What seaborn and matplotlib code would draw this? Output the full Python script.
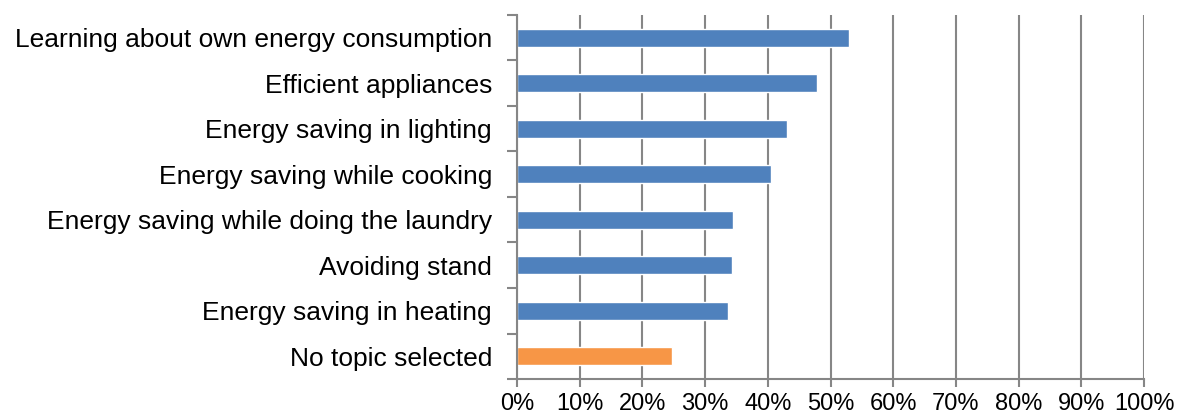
import matplotlib
matplotlib.use("Agg")
import matplotlib.pyplot as plt
import seaborn as sns
import pandas as pd
import numpy as np
from matplotlib.ticker import FixedLocator, PercentFormatter

topics = [
    "Learning about own energy consumption",
    "Efficient appliances",
    "Energy saving in lighting",
    "Energy saving while cooking",
    "Energy saving while doing the laundry",
    "Avoiding stand",
    "Energy saving in heating",
    "No topic selected",
]
share = [53.0, 47.9, 43.1, 40.5, 34.5, 34.3, 33.7, 24.7]
group = ["topic"] * 7 + ["none"]
x_ticks = list(range(0, 101, 10))

df = pd.DataFrame({"topic": topics, "share": share, "group": group})

sns.set_style("white")
plt.rcParams["font.family"] = ["Liberation Sans", "DejaVu Sans"]

fig = plt.figure(figsize=(11.84, 4.19), dpi=100)
ax = fig.add_axes([517 / 1184, 1 - 379 / 419, 627 / 1184, 364 / 419])

sns.barplot(
    data=df, x="share", y="topic", hue="group", orient="h",
    palette={"topic": "#4F81BD", "none": "#F79646"},
    width=0.4, dodge=False, legend=False, ax=ax, saturation=1,
)

grid_col = "#868686"
ax.set_xlim(0, 100)
ax.set_ylim(len(topics) - 0.5, -0.5)
ax.xaxis.set_major_locator(FixedLocator(x_ticks))
ax.xaxis.set_major_formatter(PercentFormatter(decimals=0))
ax.grid(axis="x", color=grid_col, linewidth=1.5)
ax.set_axisbelow(True)

# category ticks sit between bars
ax.yaxis.set_minor_locator(FixedLocator(np.arange(-0.5, len(topics), 1.0)))
ax.tick_params(axis="y", which="major", length=0, pad=18, labelsize=19, labelcolor="black")
ax.tick_params(axis="y", which="minor", length=7, width=1.5, color=grid_col, direction="out", left=True)
ax.tick_params(axis="x", which="major", length=6, width=1.5, color=grid_col, direction="out", bottom=True,
               labelsize=17, pad=4, labelcolor="black")

for side in ["top", "right"]:
    ax.spines[side].set_visible(False)
for side in ["left", "bottom"]:
    ax.spines[side].set_color(grid_col)
    ax.spines[side].set_linewidth(1.5)

ax.set_xlabel("")
ax.set_ylabel("")

fig.savefig("out.png", dpi=100)
